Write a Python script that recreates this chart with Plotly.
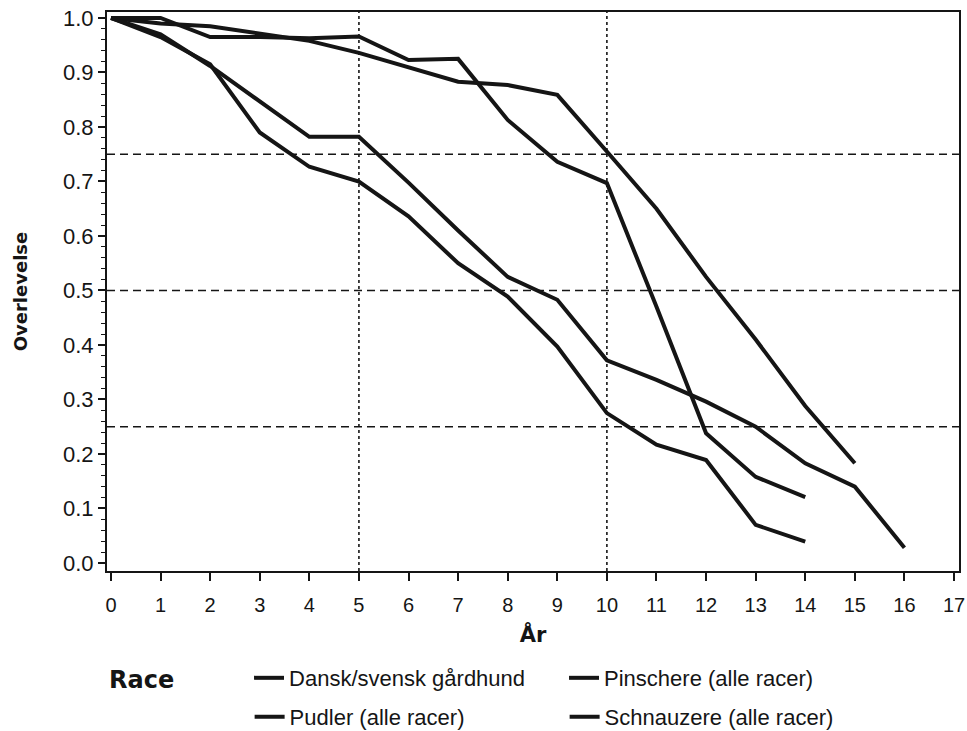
import plotly.graph_objects as go

# ---- data ----
years = list(range(0, 18))
x_tick_vals = list(range(0, 18))
y_tick_vals = [round(v * 0.1, 1) for v in range(0, 11)]

dansk = [1.0, 0.99, 0.985, 0.972, 0.958, 0.936, 0.91, 0.883, 0.877, 0.859,
         0.755, 0.65, 0.525, 0.41, 0.288, 0.183]
pinschere = [1.0, 0.965, 0.915, 0.79, 0.727, 0.70, 0.636, 0.55, 0.489, 0.397,
             0.275, 0.217, 0.189, 0.07, 0.039]
pudler = [1.0, 1.0, 0.965, 0.965, 0.963, 0.966, 0.923, 0.925, 0.813, 0.736,
          0.697, 0.47, 0.238, 0.158, 0.121]
schnauzere = [1.0, 0.97, 0.912, 0.846, 0.782, 0.782, 0.698, 0.61, 0.525, 0.483,
              0.372, 0.336, 0.296, 0.25, 0.183, 0.14, 0.028]

series_names = ["Dansk/svensk gårdhund", "Pinschere (alle racer)",
                "Pudler (alle racer)", "Schnauzere (alle racer)"]
series_values = [dansk, pinschere, pudler, schnauzere]
series_legend = ["legend", "legend", "legend2", "legend2"]

ref_y = [0.25, 0.5, 0.75]
ref_x = [5, 10]

# ---- figure ----
INK = "#151515"
FONT = "Liberation Sans, Arial, sans-serif"
BOLD = "DejaVu Sans, Verdana, sans-serif"

fig = go.Figure()
for name, vals, lg in zip(series_names, series_values, series_legend):
    fig.add_trace(go.Scatter(
        x=years[:len(vals)], y=vals, mode="lines", name=name,
        line=dict(color=INK, width=4), legend=lg,
    ))

for yv in ref_y:
    fig.add_shape(type="line", xref="paper", x0=0, x1=1, yref="y", y0=yv, y1=yv,
                  line=dict(color=INK, width=1.6, dash="8px,5px"), layer="below")
for xv in ref_x:
    fig.add_shape(type="line", yref="paper", y0=0, y1=1, xref="x", x0=xv, x1=xv,
                  line=dict(color=INK, width=1.6, dash="3px,3px"), layer="below")

NB = "\u00a0"
fig.update_layout(
    width=967, height=731,
    margin=dict(l=107, r=8, t=12, b=160),
    paper_bgcolor="white", plot_bgcolor="white",
    font=dict(family=FONT, size=20, color=INK),
    showlegend=True,
    legend=dict(
        orientation="h", xref="paper", x=0.0, xanchor="left",
        yref="container", y=0.1012, yanchor="top",
        title=dict(text="Race" + NB * 8, side="left",
                   font=dict(family=BOLD, size=24, color=INK, weight="bold")),
        font=dict(family=FONT, size=22, color=INK),
        entrywidth=270, entrywidthmode="pixels",
        bgcolor="rgba(0,0,0,0)",
    ),
    legend2=dict(
        orientation="h", xref="paper", x=0.1674, xanchor="left",
        yref="container", y=0.0479, yanchor="top",
        font=dict(family=FONT, size=22, color=INK),
        entrywidth=270, entrywidthmode="pixels",
        bgcolor="rgba(0,0,0,0)",
    ),
)

fig.update_xaxes(
    range=[-0.08, 17.1], tickvals=x_tick_vals, ticktext=[str(v) for v in x_tick_vals],
    showgrid=False, zeroline=False, automargin=False,
    showline=True, linecolor=INK, linewidth=2, mirror=True,
    ticks="outside", ticklen=8, tickwidth=1.5, tickcolor=INK,
    ticklabelstandoff=7, ticklabeloverflow="allow",
    tickfont=dict(family=FONT, size=20, color=INK),
    title=dict(text="År", font=dict(family=BOLD, size=21, color=INK, weight="bold"),
               standoff=12),
)
fig.update_yaxes(
    range=[-0.0147, 1.011], tickvals=y_tick_vals, tickformat=".1f",
    showgrid=False, zeroline=False, automargin=False,
    showline=True, linecolor=INK, linewidth=2, mirror=True,
    ticks="outside", ticklen=7, tickwidth=1.5, tickcolor=INK,
    ticklabeloverflow="allow",
    minor=dict(dtick=0.02, ticks="outside", ticklen=4, tickcolor=INK, tickwidth=1),
    tickfont=dict(family=FONT, size=22, color=INK),
    title=dict(text="Overlevelse", font=dict(family=BOLD, size=18, color=INK, weight="bold"),
               standoff=31),
)

# remove the browser's default 8px body margin so the figure fills the window exactly
fig.write_html("out.html",
               config={"displayModeBar": False},
               post_script="document.body.style.margin='0';document.body.style.overflow='hidden';")
